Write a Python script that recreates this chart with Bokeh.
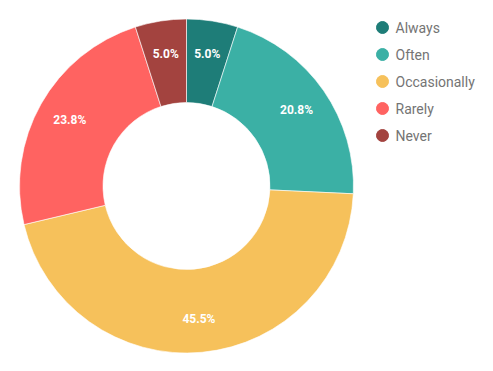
import math
from bokeh.plotting import figure
from bokeh.models import ColumnDataSource, Range1d
from bokeh.core.properties import value
from bokeh.embed import file_html
from bokeh.resources import INLINE

categories = ["Always", "Often", "Occasionally", "Rarely", "Never"]
counts = [5, 21, 46, 24, 5]
colors = ["#1e7d78", "#3bb0a5", "#f6c15b", "#ff6361", "#a3433f"]

W, H = 485, 363
CX, CY = 186, H - 185.5
R_OUT, R_IN = 167, 83.5
R_LAB = 134

total = sum(counts)
starts, ends, lx, ly, labels = [], [], [], [], []
cum = 0
for c in counts:
    a0 = math.pi / 2 - 2 * math.pi * cum / total
    a1 = math.pi / 2 - 2 * math.pi * (cum + c) / total
    starts.append(a0)
    ends.append(a1)
    mid = (a0 + a1) / 2
    lx.append(CX + R_LAB * math.cos(mid))
    ly.append(CY + R_LAB * math.sin(mid))
    labels.append(f"{c / total * 100:.1f}%")
    cum += c

src = ColumnDataSource(dict(start=starts, end=ends, color=colors, lx=lx, ly=ly, label=labels))

p = figure(width=W, height=H, output_backend="svg", toolbar_location=None,
           x_range=Range1d(0, W), y_range=Range1d(0, H), min_border=0)
p.axis.visible = False
p.grid.visible = False
p.outline_line_color = None
p.background_fill_color = "white"
p.border_fill_color = "white"

p.annular_wedge(x=CX, y=CY, inner_radius=R_IN, outer_radius=R_OUT,
                start_angle="start", end_angle="end", direction="clock",
                fill_color="color", line_color="white", line_width=1, line_alpha=0.6,
                source=src)

p.text(x="lx", y="ly", text="label", source=src, text_color="white",
       text_font=value("Roboto"), text_font_style="bold", text_font_size="12px",
       text_align="center", text_baseline="middle")

# legend
LX, LY0, STEP = 382, H - 27, 27
leg_x = [LX] * len(categories)
leg_y = [LY0 - i * STEP for i in range(len(categories))]
leg_tx = [LX + 13] * len(categories)
leg = ColumnDataSource(dict(x=leg_x, y=leg_y, tx=leg_tx, name=categories, color=colors))
p.scatter(x="x", y="y", size=12, marker="circle", fill_color="color", line_color="color", source=leg)
p.text(x="tx", y="y", text="name", source=leg, text_color="#747474",
       text_font=value("Roboto"), text_font_size="14px",
       text_align="left", text_baseline="middle")

open("out.html", "w").write(file_html(p, INLINE))
